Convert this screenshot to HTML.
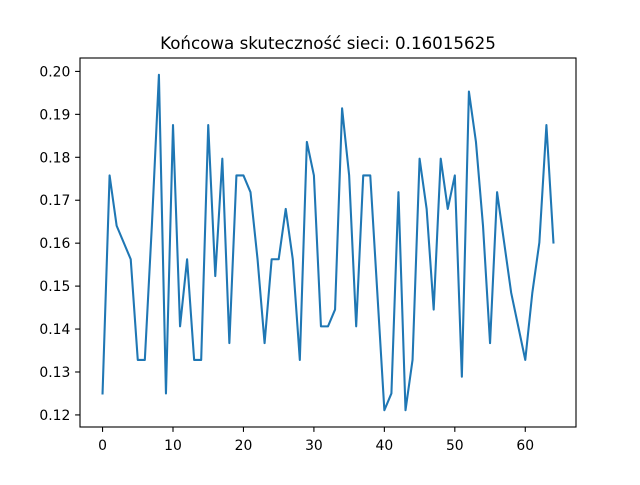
<!DOCTYPE html>
<html><head><meta charset="utf-8"><style>
body{margin:0;background:#fff;}
svg text{font-family:"DejaVu Sans","Liberation Sans",sans-serif;fill:#000;}
</style></head><body>
<svg id="chart" width="640" height="480" xmlns="http://www.w3.org/2000/svg">
<rect width="640" height="480" fill="#fff"/>
<text x="328" y="49" font-size="16.7" text-anchor="middle">Końcowa skuteczność sieci: 0.16015625</text>
<g id="ticks"></g>
<path id="series" fill="none" stroke="#1f77b4" stroke-width="2.08" stroke-linejoin="round" stroke-linecap="square"/>
<rect x="80" y="58" width="496" height="369" fill="none" stroke="#000" stroke-width="1.1"/>
</svg>
<script>
const sixteenths = [32,45,42,41,40,34,34,42,51,32,48,36,40,34,34,48,39,46,35,45,45,44,40,35,40,40,43,40,34,47,45,36,36,37,49,45,36,45,45,38,31,32,44,31,34,46,43,37,46,43,45,33,50,47,42,35,44,41,38,36,34,38,41,48,41];
const accuracy = sixteenths.map(v => v/256);
const xTicks = [0,10,20,30,40,50,60];
const yTicks = [0.12,0.13,0.14,0.15,0.16,0.17,0.18,0.19,0.20];

const L=80,R=576,T=58,B=427;
const n=accuracy.length;
const xmin=-0.05*(n-1), xmax=(n-1)*1.05;
const dmin=Math.min(...accuracy), dmax=Math.max(...accuracy), pad=(dmax-dmin)*0.05;
const ymin=dmin-pad, ymax=dmax+pad;
const sx=v=>L+(v-xmin)/(xmax-xmin)*(R-L);
const sy=v=>B-(v-ymin)/(ymax-ymin)*(B-T);

document.getElementById('series').setAttribute('d', accuracy.map((v,i)=>(i?'L':'M')+sx(i).toFixed(2)+','+sy(v).toFixed(2)).join(''));
const g=document.getElementById('ticks');
const NS='http://www.w3.org/2000/svg';
xTicks.forEach(t=>{
  const x=sx(t);
  const l=document.createElementNS(NS,'line');
  l.setAttribute('x1',x);l.setAttribute('x2',x);l.setAttribute('y1',B);l.setAttribute('y2',B+4.9);
  l.setAttribute('stroke','#000');l.setAttribute('stroke-width','1.1');
  
  
  g.appendChild(l);
  const tx=document.createElementNS(NS,'text');
  tx.setAttribute('x',x);tx.setAttribute('y',B+23);tx.setAttribute('font-size','13.9');tx.setAttribute('text-anchor','middle');
  tx.textContent=t;
  
  
  g.appendChild(tx);
});
yTicks.forEach(t=>{
  const y=sy(t);
  const l=document.createElementNS(NS,'line');
  l.setAttribute('x1',L-4.9);l.setAttribute('x2',L);l.setAttribute('y1',y);l.setAttribute('y2',y);
  l.setAttribute('stroke','#000');l.setAttribute('stroke-width','1.1');
  
  
  g.appendChild(l);
  const tx=document.createElementNS(NS,'text');
  tx.setAttribute('x',L-9.7);tx.setAttribute('y',y+5);tx.setAttribute('font-size','13.9');tx.setAttribute('text-anchor','end');
  tx.textContent=t.toFixed(2);
  
  
  g.appendChild(tx);
});
</script>
</body></html>
